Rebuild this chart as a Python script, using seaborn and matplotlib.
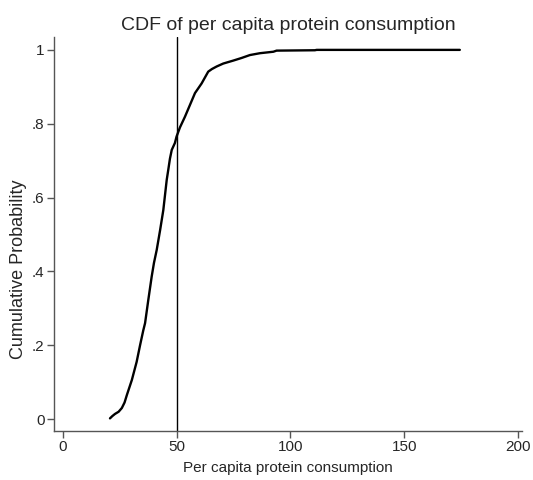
import matplotlib
matplotlib.use("Agg")
import matplotlib.pyplot as plt
import pandas as pd
import seaborn as sns

# values
protein = [20.8, 21.8, 23.0, 24.6, 26.0, 27.2, 28.2, 30.4, 32.5, 34.0,
           35.4, 36.2, 37.6, 39.1, 40.1, 41.3, 42.8, 44.2, 45.7, 46.4,
           47.1, 47.9, 49.3, 50.0, 51.5, 53.7, 55.9, 58.1, 61.0, 63.9,
           65.5, 67.6, 70.5, 74.9, 78.5, 82.2, 86.6, 92.5, 93.9, 110.7,
           111.5, 174.3]
cum_prob = [0.002, 0.008, 0.014, 0.020, 0.030, 0.045, 0.065, 0.106, 0.155, 0.200,
            0.240, 0.260, 0.322, 0.386, 0.423, 0.458, 0.512, 0.566, 0.648, 0.676,
            0.705, 0.729, 0.748, 0.765, 0.790, 0.819, 0.851, 0.883, 0.909, 0.941,
            0.948, 0.955, 0.963, 0.971, 0.978, 0.986, 0.991, 0.995, 0.998, 0.999,
            1.000, 1.000]
cutoff = 50
x_ticks = [0, 50, 100, 150, 200]
y_ticks = [0, 0.2, 0.4, 0.6, 0.8, 1.0]
y_tick_labels = ["0", ".2", ".4", ".6", ".8", "1"]

df = pd.DataFrame({"protein": protein, "cum_prob": cum_prob})

sns.set_style("white")
plt.rcParams["font.family"] = ["Liberation Sans", "DejaVu Sans"]

fig = plt.figure(figsize=(5.33, 4.8), dpi=100)
ax = fig.add_axes([0.102, 0.103, 0.877, 0.82])

sns.lineplot(data=df, x="protein", y="cum_prob", sort=False, estimator=None,
             color="black", linewidth=1.7, ax=ax)
ax.axvline(cutoff, color="black", linewidth=1.0)

ax.set_xlim(-3.6, 201.5)
ax.set_ylim(-0.031, 1.035)
ax.set_xticks(x_ticks)
ax.set_yticks(y_ticks)
ax.set_yticklabels(y_tick_labels)
ax.tick_params(axis="both", direction="out", length=5, width=1, color="#555555",
               labelsize=11, pad=2, left=True, bottom=True)

for side in ["top", "right"]:
    ax.spines[side].set_visible(False)
for side in ["left", "bottom"]:
    ax.spines[side].set_color("#555555")
    ax.spines[side].set_linewidth(1)

ax.set_xlabel("Per capita protein consumption", fontsize=11, labelpad=5)
ax.set_ylabel("Cumulative Probability", fontsize=13)
ax.yaxis.set_label_coords(-0.058, 0.41)
ax.set_title("CDF of per capita protein consumption", fontsize=14, pad=5)

fig.savefig("out.png", dpi=100, facecolor="white")
